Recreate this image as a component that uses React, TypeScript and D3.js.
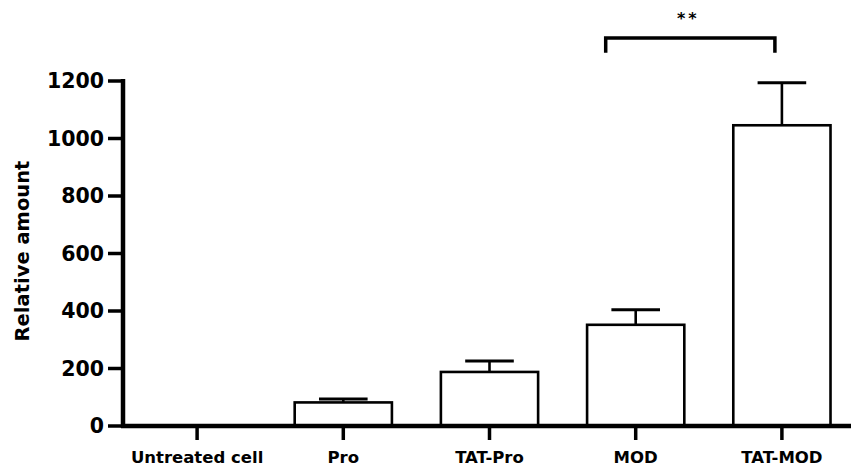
import React, { useEffect, useRef } from 'react';
import * as d3 from 'd3';

// data
const categories = ['Untreated cell', 'Pro', 'TAT-Pro', 'MOD', 'TAT-MOD'];
const means = [0, 82, 188, 352, 1046];
const errors = [0, 12, 38, 52, 148];
const yTicks = [0, 200, 400, 600, 800, 1000, 1200];

const width = 851,
    height = 468;

const font = "'DejaVu Sans', sans-serif";

function App() {
    const ref = useRef<SVGSVGElement | null>(null);

    useEffect(() => {
        const svg = d3.select(ref.current);
        svg.selectAll('*').remove();

        const axisX = 123,
            baseY = 426;

        const x = d3.scaleBand<string>()
            .domain(categories)
            .range([124, 855])
            .paddingInner(0.335)
            .paddingOuter(0.1675);

        const y = d3.scaleLinear()
            .domain([0, 1200])
            .range([baseY, 81]);

        const cx = (c: string) => (x(c) as number) + x.bandwidth() / 2;

        // bars
        const rows = categories.map((c, i) => ({ c, m: means[i], e: errors[i] }));

        svg.selectAll('rect.bar')
            .data(rows.filter(d => d.m > 0))
            .enter()
            .append('rect')
            .attr('class', 'bar')
            .attr('x', d => x(d.c) as number)
            .attr('y', d => y(d.m))
            .attr('width', x.bandwidth())
            .attr('height', d => y(0) - y(d.m))
            .style('fill', 'white')
            .style('stroke', 'black')
            .style('stroke-width', 2.6);

        // error bars (upper only)
        const err = svg.selectAll('g.err')
            .data(rows.filter(d => d.e > 0))
            .enter()
            .append('g')
            .attr('class', 'err');

        err.append('line')
            .attr('x1', d => cx(d.c))
            .attr('x2', d => cx(d.c))
            .attr('y1', d => y(d.m))
            .attr('y2', d => y(d.m + d.e))
            .style('stroke', 'black')
            .style('stroke-width', 2.6);

        err.append('line')
            .attr('x1', d => cx(d.c) - x.bandwidth() / 4)
            .attr('x2', d => cx(d.c) + x.bandwidth() / 4)
            .attr('y1', d => y(d.m + d.e))
            .attr('y2', d => y(d.m + d.e))
            .style('stroke', 'black')
            .style('stroke-width', 3);

        // y axis
        const yAxis = svg.append('g');
        yAxis.append('line')
            .attr('x1', axisX).attr('x2', axisX)
            .attr('y1', y(1200) - 2).attr('y2', baseY + 2)
            .style('stroke', 'black')
            .style('stroke-width', 4.5);

        yAxis.selectAll('line.tick')
            .data(yTicks)
            .enter()
            .append('line')
            .attr('class', 'tick')
            .attr('x1', axisX - 15).attr('x2', axisX)
            .attr('y1', d => y(d)).attr('y2', d => y(d))
            .style('stroke', 'black')
            .style('stroke-width', 3.5);

        yAxis.selectAll('text')
            .data(yTicks)
            .enter()
            .append('text')
            .attr('x', axisX - 19)
            .attr('y', d => y(d))
            .attr('dy', '0.36em')
            .attr('text-anchor', 'end')
            .style('font-family', font)
            .style('font-weight', 'bold')
            .style('font-size', '20.5px')
            .text(d => d);

        // x axis
        const xAxis = svg.append('g');
        xAxis.append('line')
            .attr('x1', axisX - 2).attr('x2', width)
            .attr('y1', baseY).attr('y2', baseY)
            .style('stroke', 'black')
            .style('stroke-width', 4.5);

        xAxis.selectAll('line.tick')
            .data(categories)
            .enter()
            .append('line')
            .attr('class', 'tick')
            .attr('x1', d => cx(d)).attr('x2', d => cx(d))
            .attr('y1', baseY).attr('y2', baseY + 14)
            .style('stroke', 'black')
            .style('stroke-width', 3.5);

        xAxis.selectAll('text')
            .data(categories)
            .enter()
            .append('text')
            .attr('x', d => cx(d))
            .attr('y', 463)
            .attr('text-anchor', 'middle')
            .style('font-family', font)
            .style('font-weight', 'bold')
            .style('font-size', '16.5px')
            .text(d => d);

        // y title
        svg.append('text')
            .attr('transform', 'translate(29,251) rotate(-90)')
            .attr('text-anchor', 'middle')
            .style('font-family', font)
            .style('font-weight', 'bold')
            .style('font-size', '19.5px')
            .text('Relative amount');

        // significance bracket MOD vs TAT-MOD
        const bx1 = cx('MOD') - 30,
            bx2 = cx('TAT-MOD') - 7,
            byTop = y(1350),
            byLeg = y(1298);

        svg.append('path')
            .attr('d', `M${bx1},${byLeg}V${byTop}H${bx2}V${byLeg}`)
            .style('fill', 'none')
            .style('stroke', 'black')
            .style('stroke-width', 3.5);

        svg.append('text')
            .attr('x', (bx1 + bx2) / 2 - 2)
            .attr('y', 24)
            .attr('text-anchor', 'middle')
            .style('font-family', font)
            .style('font-weight', 'bold')
            .style('font-size', '16px')
            .style('letter-spacing', '3px')
            .text('**');
    }, []);

    return (
        <svg
            ref={ref}
            width={width}
            height={height}
            style={{ position: 'absolute', left: 0, top: 0, background: 'white' }}
        />
    );
}

export default App;
